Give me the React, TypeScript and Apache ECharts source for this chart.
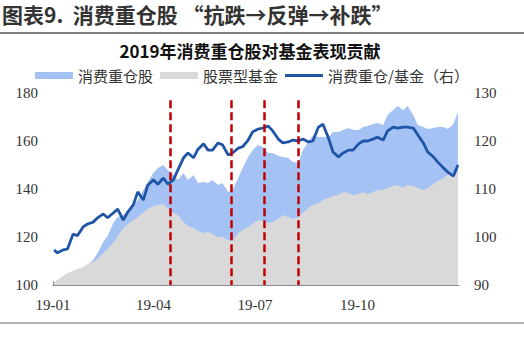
import React, { useEffect, useRef } from "react";
import * as echarts from "echarts";

const titleText = "图表9.  消费重仓股 “抗跌→反弹→补跌”";
const subtitleText = "2019年消费重仓股对基金表现贡献";
const seriesNames = ["消费重仓股", "股票型基金", "消费重仓/基金（右）"];

const dates = [
  "2019-01-02", "2019-01-05", "2019-01-10", "2019-01-14", "2019-01-19", "2019-01-23", "2019-01-28", "2019-02-01", "2019-02-06", "2019-02-10",
  "2019-02-15", "2019-02-19", "2019-02-24", "2019-02-28", "2019-03-05", "2019-03-09", "2019-03-14", "2019-03-18", "2019-03-23", "2019-03-27",
  "2019-04-01", "2019-04-05", "2019-04-10", "2019-04-14", "2019-04-19", "2019-04-23", "2019-04-28", "2019-05-02", "2019-05-07", "2019-05-11",
  "2019-05-16", "2019-05-20", "2019-05-24", "2019-05-29", "2019-06-02", "2019-06-07", "2019-06-11", "2019-06-16", "2019-06-20", "2019-06-25",
  "2019-06-29", "2019-07-04", "2019-07-08", "2019-07-13", "2019-07-17", "2019-07-22", "2019-07-26", "2019-07-31", "2019-08-04", "2019-08-09",
  "2019-08-13", "2019-08-18", "2019-08-22", "2019-08-27", "2019-08-31", "2019-09-05", "2019-09-09", "2019-09-14", "2019-09-18", "2019-09-23",
  "2019-09-27", "2019-10-02", "2019-10-06", "2019-10-10", "2019-10-15", "2019-10-19", "2019-10-24", "2019-10-28", "2019-11-02", "2019-11-06",
  "2019-11-11", "2019-11-15", "2019-11-20", "2019-11-24", "2019-11-29", "2019-12-03", "2019-12-08", "2019-12-12", "2019-12-17", "2019-12-21",
  "2019-12-26", "2019-12-30",
];

const consumerHeavy = [
  100.8, 102.1, 102.9, 103.8, 105.0, 106.3, 107.1, 108.3, 110.4, 113.3,
  117.9, 120.4, 125.8, 128.3, 129.2, 130.4, 133.3, 135.4, 139.6, 142.9,
  146.7, 148.8, 150.0, 147.9, 145.8, 143.8, 146.7, 143.8, 145.8, 142.5,
  142.9, 142.5, 143.8, 141.7, 142.5, 138.8, 139.6, 144.6, 148.8, 153.3,
  156.3, 158.3, 157.5, 155.0, 155.0, 153.8, 153.3, 152.9, 151.3, 150.8,
  156.3, 159.6, 162.5, 161.7, 161.7, 161.7, 163.8, 163.8, 164.6, 165.4,
  164.6, 164.6, 165.8, 166.3, 167.1, 167.5, 166.7, 170.8, 172.9, 174.6,
  172.9, 174.6, 170.8, 166.7, 165.8, 165.0, 165.4, 165.8, 165.8, 165.0,
  167.1, 172.1,
];

const stockFunds = [
  100.8, 102.1, 103.8, 105.0, 105.8, 106.7, 107.5, 108.8, 109.6, 110.8,
  113.3, 115.0, 117.5, 120.4, 123.8, 125.4, 127.1, 128.3, 130.0, 131.7,
  132.9, 133.3, 133.8, 132.1, 130.0, 129.2, 126.3, 124.6, 123.8, 122.5,
  121.7, 122.1, 121.3, 120.0, 120.0, 118.8, 118.3, 121.7, 122.9, 124.2,
  125.4, 127.1, 126.7, 125.8, 126.3, 127.5, 129.2, 128.3, 127.5, 128.3,
  130.0, 132.1, 133.3, 134.2, 135.4, 136.3, 137.1, 137.5, 138.8, 138.3,
  137.5, 137.9, 138.8, 137.9, 138.8, 139.6, 139.6, 140.4, 141.3, 141.7,
  140.4, 141.7, 141.3, 140.4, 139.6, 140.4, 142.1, 143.3, 144.6, 145.8,
  146.7, 147.1,
];

const ratio = [
  97.3, 96.7, 97.3, 97.5, 100.6, 100.3, 102.1, 102.7, 103.1, 104.0,
  104.8, 104.0, 105.0, 105.8, 103.5, 105.2, 106.7, 109.4, 107.7, 110.8,
  111.9, 111.0, 112.3, 111.0, 111.9, 114.0, 116.5, 117.5, 116.5, 118.3,
  119.4, 118.1, 118.1, 119.6, 119.2, 117.1, 117.5, 118.5, 118.8, 120.2,
  121.9, 122.5, 122.7, 123.1, 122.1, 120.4, 119.6, 119.8, 120.2, 120.0,
  120.4, 119.8, 120.0, 122.9, 123.5, 120.6, 117.7, 116.7, 117.5, 118.1,
  118.1, 119.4, 120.0, 120.0, 120.4, 120.8, 120.2, 122.1, 122.9, 122.7,
  122.9, 122.9, 122.7, 121.3, 119.6, 117.7, 116.7, 115.6, 114.4, 113.5,
  112.7, 115.0,
];

const eventDates = ["2019-04-16", "2019-06-10", "2019-07-09", "2019-08-09"];
const tickDates = ["2019-01-01", "2019-04-01", "2019-07-01", "2019-10-01"];
const tickLabels = ["19-01", "19-04", "19-07", "19-10"];
const axisStart = "2019-01-01";
const axisEnd = "2019-12-31";

const DAY = 86400000;
const dayOf = (s: string) => Math.round((Date.parse(s) - Date.parse(axisStart)) / DAY);

export default function App() {
  const ref = useRef<HTMLDivElement>(null);

  useEffect(() => {
    if (!ref.current) return;
    const chart = echarts.init(ref.current, null, { renderer: "svg" });
    const xs = dates.map(dayOf);
    const tickVals = tickDates.map(dayOf);
    const numFont = "Liberation Serif";
    const cjkFont = "Noto Sans CJK SC";
    const blue = "#a4c3f4";
    const gray = "#d9d9d9";
    const navy = "#1f54a6";

    chart.setOption({
      animation: false,
      backgroundColor: "#ffffff",
      grid: { left: 53, right: 65, top: 93, bottom: 63 },
      legend: {
        left: 35,
        top: 68,
        padding: 0,
        itemWidth: 38,
        itemHeight: 7,
        itemGap: 7,
        textStyle: { fontFamily: cjkFont, fontSize: 15, color: "#333" },
        data: [
          { name: seriesNames[0], icon: "rect" },
          { name: seriesNames[1], icon: "rect" },
          { name: seriesNames[2], icon: "path://M0,0 L40,0 L40,3 L0,3 Z" },
        ],
      },
      xAxis: {
        type: "value",
        min: dayOf(axisStart),
        max: dayOf(axisEnd),
        splitLine: { show: false },
        axisLine: { show: true, lineStyle: { color: "#8c8c8c", width: 1.2 } },
        axisTick: { show: true, inside: true, length: 4, customValues: tickVals, lineStyle: { color: "#8c8c8c" } },
        axisLabel: {
          customValues: tickVals,
          margin: 12,
          fontFamily: numFont,
          fontSize: 15,
          color: "#333",
          formatter: (v: number) => {
            const i = tickVals.indexOf(Math.round(v));
            return i >= 0 ? tickLabels[i] : "";
          },
        },
      },
      yAxis: [
        {
          type: "value",
          min: 100,
          max: 180,
          interval: 20,
          splitLine: { show: false },
          axisLine: { show: false },
          axisTick: { show: false },
          axisLabel: { margin: 15, fontFamily: numFont, fontSize: 15, color: "#333" },
        },
        {
          type: "value",
          min: 90,
          max: 130,
          interval: 10,
          position: "right",
          splitLine: { show: false },
          axisLine: { show: false },
          axisTick: { show: false },
          axisLabel: { margin: 15, fontFamily: numFont, fontSize: 15, color: "#333" },
        },
      ],
      series: [
        {
          name: seriesNames[0],
          type: "line",
          yAxisIndex: 0,
          symbol: "none",
          color: blue,
          itemStyle: { color: blue },
          lineStyle: { width: 0, color: blue },
          areaStyle: { color: blue, opacity: 1, origin: "start" },
          data: xs.map((x, i) => [x, consumerHeavy[i]]),
          z: 1,
        },
        {
          name: seriesNames[1],
          type: "line",
          yAxisIndex: 0,
          symbol: "none",
          color: gray,
          itemStyle: { color: gray },
          lineStyle: { width: 0, color: gray },
          areaStyle: { color: gray, opacity: 1, origin: "start" },
          data: xs.map((x, i) => [x, stockFunds[i]]),
          z: 2,
          markLine: {
            silent: true,
            symbol: ["none", "none"],
            label: { show: false },
            lineStyle: { color: "#c00000", width: 2.5, type: [8, 4] },
            data: eventDates.map((d) => [
              { coord: [dayOf(d), 177] },
              { coord: [dayOf(d), 100] },
            ]),
          },
        },
        {
          name: seriesNames[2],
          type: "line",
          yAxisIndex: 1,
          symbol: "none",
          showSymbol: false,
          color: navy,
          itemStyle: { color: navy },
          lineStyle: { width: 2.8, color: navy },
          data: xs.map((x, i) => [x, ratio[i]]),
          z: 4,
        },
      ],
      graphic: [
        {
          type: "text",
          x: 2,
          y: 14,
          style: {
            text: titleText,
            font: `bold 21px "${cjkFont}"`,
            fill: "#333",
            textVerticalAlign: "middle",
          },
        },
        {
          type: "line",
          shape: { x1: 0, y1: 33, x2: 524, y2: 33 },
          style: { stroke: "#555", lineWidth: 1.5 },
        },
        {
          type: "text",
          x: 250,
          y: 50,
          style: {
            text: subtitleText,
            font: `bold 17px "${cjkFont}"`,
            fill: "#111",
            textAlign: "center",
            textVerticalAlign: "middle",
          },
        },
        {
          type: "line",
          shape: { x1: 0, y1: 323, x2: 524, y2: 323 },
          style: { stroke: "#666", lineWidth: 1.2 },
        },
      ],
    });
    return () => chart.dispose();
  }, []);

  return (
    <div
      ref={ref}
      style={{ position: "absolute", left: 0, top: 0, width: 524, height: 348, background: "#fff" }}
    />
  );
}
